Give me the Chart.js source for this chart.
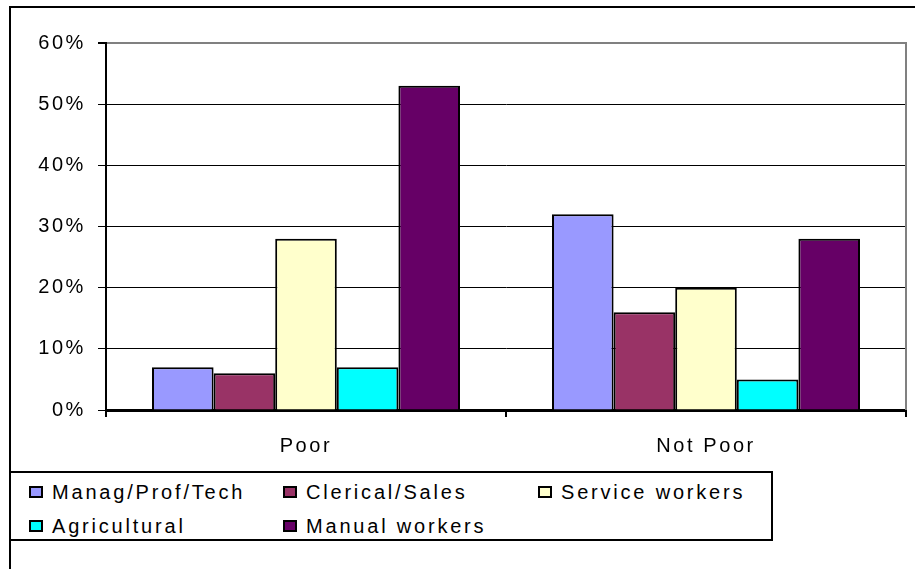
<!DOCTYPE html>
<html>
<head>
<meta charset="utf-8">
<script src="https://cdn.jsdelivr.net/npm/chart.js@4/dist/chart.umd.min.js"></script>
<style>
  body { margin: 0; background: #fff; }
  #wrap { position: relative; width: 915px; height: 569px; overflow: hidden; }
  #myChart { position: absolute; left: 0; top: 0; }
  #frame { position: absolute; left: 9px; top: 6px; width: 950px; height: 600px;
           border-left: 2px solid #000; border-top: 2px solid #000; pointer-events: none; }
  #legend { position: absolute; left: 9px; top: 471px; width: 764px; height: 70px;
            box-sizing: border-box; border: 2px solid #000; background: #fff;
            font-family: "Liberation Sans", Arial, sans-serif; font-size: 20px;
            letter-spacing: 2.8px; color: #000; }
  .item { position: absolute; height: 30px; display: flex; align-items: center; white-space: nowrap; }
  .box { width: 14px; height: 12px; box-sizing: border-box; border: 2px solid #000; margin-right: 9px; }
</style>
</head>
<body>
<div id="wrap">
  <canvas id="myChart" width="915" height="569"></canvas>
  <div id="frame"></div>
  <div id="legend"></div>
</div>
<script>
var categories = ['Poor', 'Not Poor'];
var seriesNames = ['Manag/Prof/Tech', 'Clerical/Sales', 'Service workers', 'Agricultural', 'Manual workers'];
var managProfTech = [7, 32];
var clericalSales = [6, 16];
var serviceWorkers = [28, 20];
var agricultural = [7, 5];
var manualWorkers = [53, 28];
var yTicks = [0, 10, 20, 30, 40, 50, 60];
var colors = ['#9999FF', '#993366', '#FFFFCC', '#00FFFF', '#660066'];

var seriesValues = [managProfTech, clericalSales, serviceWorkers, agricultural, manualWorkers];

// excel style spacing between letters
var spacing = {
    id: 'spacing',
    beforeLayout: function(chart) { chart.ctx.letterSpacing = '2.6px'; },
    beforeDraw: function(chart) { chart.ctx.letterSpacing = '2.6px'; }
};

// gray plot area border on the right
var plotBorder = {
    id: 'plotBorder',
    afterDraw: function(chart) {
        var a = chart.chartArea, c = chart.ctx;
        c.save();
        c.strokeStyle = '#808080';
        c.lineWidth = 2;
        c.beginPath();
        c.moveTo(a.right, a.top - 1);
        c.lineTo(a.right, a.bottom);
        c.stroke();
        c.restore();
    }
};

Chart.defaults.font.family = '"Liberation Sans", Arial, sans-serif';
Chart.defaults.font.size = 20;
Chart.defaults.color = '#000';

var ctx = document.getElementById('myChart').getContext('2d');
var myChart = new Chart(ctx, {
    type: 'bar',
    data: {
        labels: categories,
        datasets: seriesNames.map(function(name, i) {
            return {
                label: name,
                data: seriesValues[i],
                backgroundColor: colors[i],
                borderColor: '#000',
                borderWidth: 2,
                categoryPercentage: 0.77,
                barPercentage: 1.0
            };
        })
    },
    options: {
        responsive: false,
        animation: false,
        layout: { padding: { left: 0, top: 43, right: 9, bottom: 99 } },
        plugins: {
            legend: { display: false },
            tooltip: { enabled: false }
        },
        scales: {
            x: {
                afterFit: function(scale) { scale.height = 60; },
                grid: { offset: true, drawOnChartArea: false, drawTicks: true, tickLength: 7, color: '#000', lineWidth: 2 },
                border: { color: '#000', width: 3 },
                ticks: { padding: 17 }
            },
            y: {
                min: 0,
                max: 60,
                afterFit: function(scale) { scale.width = 106; },
                afterBuildTicks: function(scale) {
                    scale.ticks = yTicks.map(function(v) { return { value: v }; });
                },
                grid: {
                    color: function(c) { return c.tick && c.tick.value === 60 ? '#808080' : '#000'; },
                    lineWidth: function(c) { return c.tick && c.tick.value === 60 ? 2 : 1; },
                    tickColor: '#000',
                    tickLength: 8
                },
                border: { color: '#000', width: 2 },
                ticks: {
                    padding: 12,
                    callback: function(v) { return v + '%'; }
                }
            }
        }
    },
    plugins: [spacing, plotBorder]
});

// legend in a boxed grid like the original
var legend = document.getElementById('legend');
var colX = [18, 272, 527];
var rowY = [4, 38];
myChart.data.datasets.forEach(function(ds, i) {
    var item = document.createElement('div');
    item.className = 'item';
    item.style.left = colX[i % 3] + 'px';
    item.style.top = rowY[Math.floor(i / 3)] + 'px';
    var box = document.createElement('span');
    box.className = 'box';
    box.style.background = ds.backgroundColor;
    var txt = document.createElement('span');
    txt.textContent = ds.label;
    item.appendChild(box);
    item.appendChild(txt);
    legend.appendChild(item);
});
</script>
</body>
</html>
